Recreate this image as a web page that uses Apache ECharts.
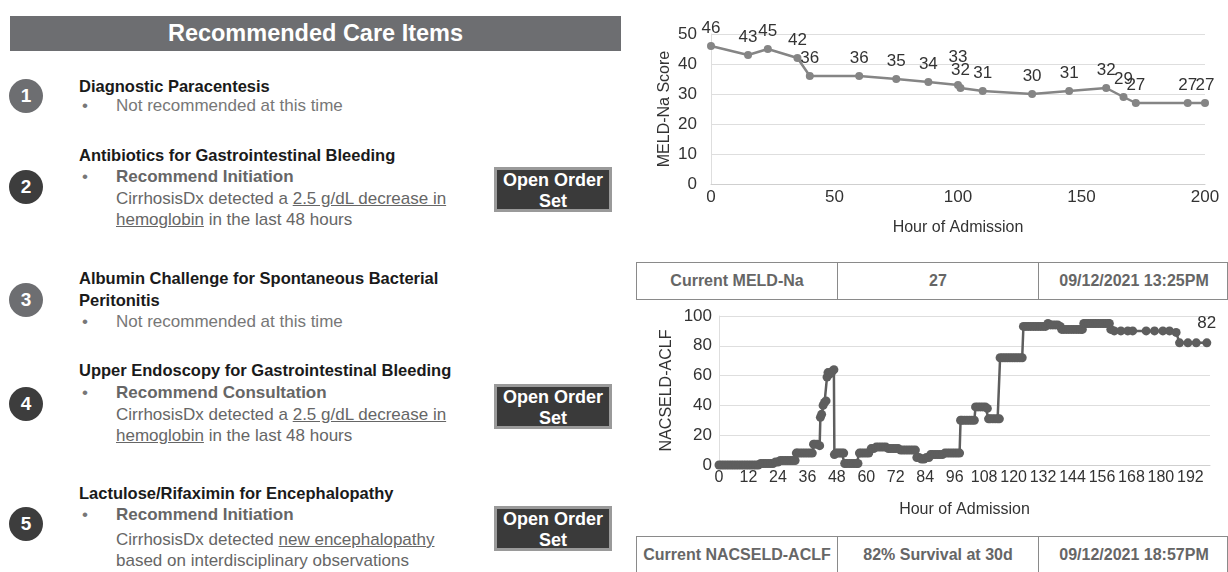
<!DOCTYPE html>
<html>
<head>
<meta charset="utf-8">
<script src="https://cdn.jsdelivr.net/npm/echarts@6/dist/echarts.min.js"></script>
<style>
body{margin:0;width:1228px;height:572px;overflow:hidden;background:#fff;position:relative;font-family:"Liberation Sans",Arial,sans-serif}
.a{position:absolute;white-space:nowrap}
.hdr{left:10px;top:16px;width:611px;height:35px;background:#6d6e71;color:#fff;font-weight:bold;font-size:23.5px;line-height:35px;text-align:center}
.num{left:9px;width:34px;height:34px;border-radius:50%;color:#fff;font-weight:bold;font-size:19px;line-height:34px;text-align:center}
.lt{background:#6d6e71}
.dk{background:#3d3d3d}
.ttl{left:79px;font-weight:bold;font-size:16.5px;color:#1a1a1a;line-height:22px}
.bul{left:82px;color:#777;font-size:17px;line-height:22px}
.no{left:116px;color:#777;font-size:17px;line-height:22px}
.rec{left:116px;color:#666;font-weight:bold;font-size:17px;line-height:22px}
.txt{left:116px;color:#666;font-size:17px;line-height:21px}
.txt u{text-decoration:underline}
.btn{left:494px;width:112px;height:39px;background:#3a3a3a;border:3px solid #9a9a9a;color:#fff;font-weight:bold;font-size:18px;text-align:center;line-height:21px;padding-top:0}
.tbl{left:636px;width:590px;height:36px;border:1.5px solid #8a8a8a;display:flex}
.tbl div{flex:none;text-align:center;font-weight:bold;font-size:16px;color:#666;line-height:36px;border-right:1.5px solid #8a8a8a}
.tbl div:last-child{border-right:none}
#meld{position:absolute;left:636px;top:0;width:592px;height:250px}
#nacs{position:absolute;left:636px;top:300px;width:592px;height:235px}
</style>
</head>
<body>
<div class="a hdr">Recommended Care Items</div>

<div class="a num lt" style="top:79px">1</div>
<div class="a ttl" style="top:75px">Diagnostic Paracentesis</div>
<div class="a bul" style="top:95px">•</div>
<div class="a no" style="top:95px">Not recommended at this time</div>

<div class="a num dk" style="top:170px">2</div>
<div class="a ttl" style="top:144px">Antibiotics for Gastrointestinal Bleeding</div>
<div class="a bul" style="top:166px">•</div>
<div class="a rec" style="top:166px">Recommend Initiation</div>
<div class="a txt" style="top:188px">CirrhosisDx detected a <u>2.5 g/dL decrease in</u><br><u>hemoglobin</u> in the last 48 hours</div>
<div class="a btn" style="top:167px">Open Order<br>Set</div>

<div class="a num lt" style="top:283px">3</div>
<div class="a ttl" style="top:267px">Albumin Challenge for Spontaneous Bacterial<br>Peritonitis</div>
<div class="a bul" style="top:311px">•</div>
<div class="a no" style="top:311px">Not recommended at this time</div>

<div class="a num dk" style="top:387px">4</div>
<div class="a ttl" style="top:359px">Upper Endoscopy for Gastrointestinal Bleeding</div>
<div class="a bul" style="top:382px">•</div>
<div class="a rec" style="top:382px">Recommend Consultation</div>
<div class="a txt" style="top:404px">CirrhosisDx detected a <u>2.5 g/dL decrease in</u><br><u>hemoglobin</u> in the last 48 hours</div>
<div class="a btn" style="top:384px">Open Order<br>Set</div>

<div class="a num dk" style="top:507px">5</div>
<div class="a ttl" style="top:482px">Lactulose/Rifaximin for Encephalopathy</div>
<div class="a bul" style="top:504px">•</div>
<div class="a rec" style="top:504px">Recommend Initiation</div>
<div class="a txt" style="top:529px">CirrhosisDx detected <u>new encephalopathy</u><br>based on interdisciplinary observations</div>
<div class="a btn" style="top:506px">Open Order<br>Set</div>

<div id="meld"></div>
<div class="a tbl" style="top:262px">
  <div style="width:200px">Current MELD-Na</div>
  <div style="width:200px">27</div>
  <div style="width:190px">09/12/2021 13:25PM</div>
</div>
<div id="nacs"></div>
<div class="a tbl" style="top:536px">
  <div style="width:200px">Current NACSELD-ACLF</div>
  <div style="width:200px">82% Survival at 30d</div>
  <div style="width:190px">09/12/2021 18:57PM</div>
</div>

<script>
// MELD-Na score by hour of admission
var meldHours  = [0, 15, 23, 35, 40, 60, 75, 88, 100, 101, 110, 130, 145, 160, 167, 172, 193, 200];
var meldScores = [46, 43, 45, 42, 36, 36, 35, 34, 33, 32, 31, 30, 31, 32, 29, 27, 27, 27];

// NACSELD-ACLF by hour of admission
var nacsHours = [
  0, 1, 2, 3, 4, 5, 6, 7, 8, 9, 10, 11, 12, 13, 14, 15,
  16, 17, 18, 19, 20, 21, 22, 23, 24,
  25, 26, 27, 28, 29, 30, 31,
  31.5, 32, 33, 34, 35, 36, 37, 38,
  38.5, 39, 40, 41,
  41.3, 41.8, 42.4, 43, 43.6, 44, 44.4, 45, 45.6, 46.2, 46.8,
  47, 47.6, 48.4, 49.2, 50, 50.8,
  51.2, 52, 53, 54, 55, 56, 56.6,
  57.2, 58, 59, 60, 61,
  62, 63, 64, 65, 66, 67, 68, 69, 70, 71, 72, 73,
  74, 75, 76, 77, 78, 79, 80,
  80.6, 81.5, 82.5, 83.5, 84.5, 85.5,
  86.2, 87, 88, 89, 90, 91, 92, 93, 94, 95, 96, 97, 98,
  98.4, 99, 100, 101, 102, 103, 104,
  104.5, 105.5, 106.5, 107.5, 108.5, 109.3,
  109.8, 110.5, 111.5, 112.5, 113.5, 114.2,
  114.5, 115.5, 116.5, 117.5, 118.5, 119.5, 120.5, 121.5, 122.5, 123.5,
  124, 125, 126, 127, 128, 129, 130, 131, 132, 133,
  134, 135, 136, 137, 138, 139,
  139.6, 140.5, 141.5, 142.5, 143.5, 144.5, 145.5, 146.5, 147.5, 148,
  148.6, 149.5, 150.5, 151.5, 152.5, 153.5, 154.5, 155.5, 156.5, 157.5, 158.5, 159,
  159.6, 161, 163.7, 166.5, 168.5,
  174, 177.4, 180.8, 183.5, 186.2,
  187.6, 191, 194.4, 198.7
];
var nacsScores = [
  0, 0, 0, 0, 0, 0, 0, 0, 0, 0, 0, 0, 0, 0, 0, 0,
  0, 1, 1, 1, 1, 1, 1, 2, 2,
  3, 3, 3, 3, 3, 3, 3,
  8, 8, 8, 8, 8, 8, 8, 8,
  14, 14, 14, 13,
  32, 34, 40, 42, 43, 59, 62, 61, 62, 63, 64,
  7, 8, 8, 8, 8, 8,
  1, 1, 1, 1, 1, 1, 1,
  8, 8, 8, 8, 8,
  11, 11, 12, 12, 12, 12, 12, 11, 11, 11, 11, 11,
  10, 10, 10, 10, 10, 10, 10,
  5, 5, 4, 4, 5, 5,
  7, 7, 7, 7, 7, 7, 8, 8, 8, 8, 8, 8, 8,
  30, 30, 30, 30, 30, 30, 30,
  39, 39, 39, 39, 39, 38,
  31, 31, 31, 31, 31, 31,
  72, 72, 72, 72, 72, 72, 72, 72, 72, 72,
  93, 93, 93, 93, 93, 93, 93, 93, 93, 93,
  95, 94, 94, 94, 94, 93,
  91, 91, 91, 91, 91, 91, 91, 91, 91, 91,
  95, 95, 95, 95, 95, 95, 95, 95, 95, 95, 95, 95,
  91, 90, 90, 90, 90,
  90, 90, 90, 90, 89,
  82, 82, 82, 82
];

var txt = '#333';
var grid = '#dedede';

function pairs(xs, ys) {
  return xs.map(function (x, i) { return [x, ys[i]]; });
}

var meldChart = echarts.init(document.getElementById('meld'));
meldChart.setOption({
  animation: false,
  textStyle: { fontFamily: 'Liberation Sans' },
  grid: { left: 75, right: 23, top: 34, bottom: 66 },
  xAxis: {
    type: 'value', min: 0, max: 200, interval: 50,
    name: 'Hour of Admission', nameLocation: 'middle', nameGap: 36,
    nameTextStyle: { color: txt, fontSize: 16 },
    axisLine: { lineStyle: { color: '#cfcfcf' } },
    axisTick: { show: false },
    axisLabel: { color: txt, fontSize: 17, margin: 5 },
    splitLine: { show: false }
  },
  yAxis: {
    type: 'value', min: 0, max: 50, interval: 10,
    name: 'MELD-Na Score', nameLocation: 'middle', nameGap: 38, nameMoveOverlap: false,
    nameTextStyle: { color: txt, fontSize: 16 },
    axisLine: { show: true, lineStyle: { color: grid } },
    axisTick: { show: false },
    axisLabel: { color: txt, fontSize: 17, margin: 14 },
    splitLine: { lineStyle: { color: grid } }
  },
  series: [{
    type: 'line',
    data: pairs(meldHours, meldScores),
    symbol: 'circle', symbolSize: 8,
    itemStyle: { color: '#858585' },
    lineStyle: { color: '#858585', width: 2.5 },
    label: { show: true, position: 'top', distance: 5, color: txt, fontSize: 17,
      formatter: function (p) { return p.value[1]; } },
    // lift the label when the next reading comes right after it
    labelLayout: function (p) {
      var i = p.dataIndex;
      if (i < meldHours.length - 1 && meldHours[i + 1] - meldHours[i] <= 2) {
        return { dy: -10 };
      }
      return {};
    }
  }]
});

var nacsChart = echarts.init(document.getElementById('nacs'));
var lastIdx = nacsHours.length - 1;
nacsChart.setOption({
  animation: false,
  textStyle: { fontFamily: 'Liberation Sans' },
  grid: { left: 83, right: 18, top: 16, bottom: 70 },
  xAxis: {
    type: 'value', min: 0, max: 200, interval: 12,
    name: 'Hour of Admission', nameLocation: 'middle', nameGap: 37,
    nameTextStyle: { color: txt, fontSize: 16 },
    axisLine: { lineStyle: { color: '#cfcfcf' } },
    axisTick: { show: false },
    axisLabel: { color: txt, fontSize: 16, margin: 5, showMaxLabel: false },
    splitLine: { show: false }
  },
  yAxis: {
    type: 'value', min: 0, max: 100, interval: 20,
    name: 'NACSELD-ACLF', nameLocation: 'middle', nameGap: 44, nameMoveOverlap: false,
    nameTextStyle: { color: txt, fontSize: 16 },
    axisLine: { show: true, lineStyle: { color: grid } },
    axisTick: { show: false },
    axisLabel: { color: txt, fontSize: 17, margin: 7 },
    splitLine: { lineStyle: { color: grid } }
  },
  series: [{
    type: 'line',
    data: pairs(nacsHours, nacsScores),
    symbol: 'circle', symbolSize: 9,
    itemStyle: { color: '#5e5e5e' },
    lineStyle: { color: '#5e5e5e', width: 2.5 },
    label: { show: true, position: 'top', distance: 7, color: txt, fontSize: 17,
      formatter: function (p) { return p.dataIndex === lastIdx ? p.value[1] : ''; } }
  }]
});
</script>
</body>
</html>
